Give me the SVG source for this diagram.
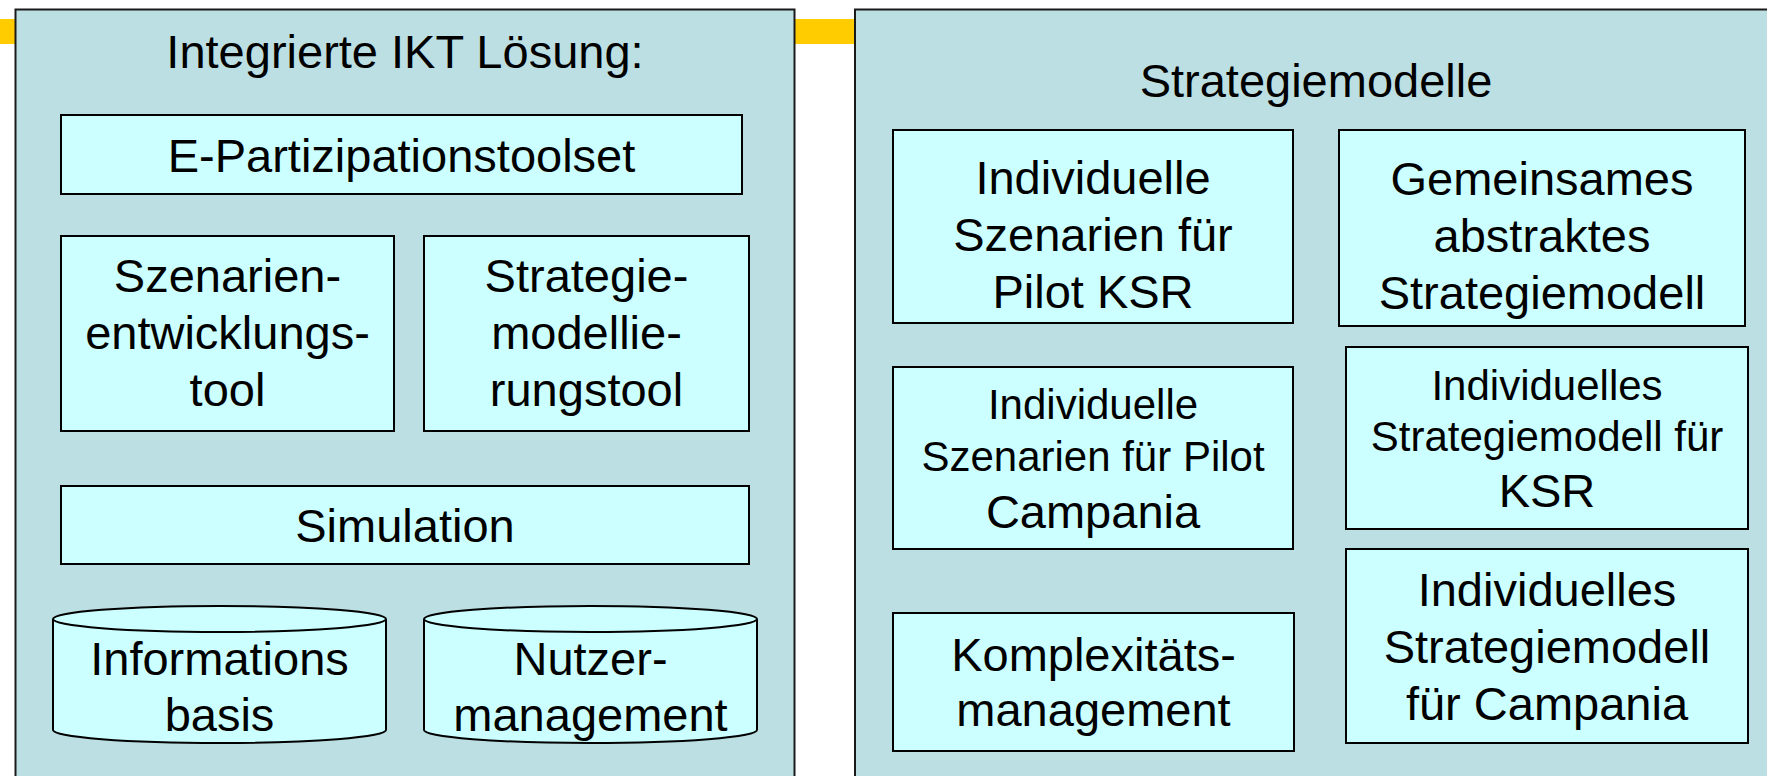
<svg xmlns="http://www.w3.org/2000/svg" width="1767" height="776" viewBox="0 0 1767 776">
<style>
.panel{fill:#BBDFE3;stroke:#1a1a1a;stroke-width:2}
.box{fill:#CCFFFF;stroke:#000;stroke-width:2}
text{font-family:"Liberation Sans",Arial,sans-serif;font-size:47px;fill:#000;text-anchor:middle}
.s{font-size:42px}
</style>
<rect x="0" y="19" width="870" height="25" fill="#FFCC00"/>
<g id="panel-left">
<rect class="panel" x="15.5" y="9.5" width="779" height="800"/>
<text x="405" y="68">Integrierte IKT Lösung:</text>
</g>
<g id="panel-right">
<rect class="panel" x="855" y="9.5" width="950" height="800"/>
<text x="1316" y="97">Strategiemodelle</text>
</g>
<g id="e-partizipation">
<rect class="box" x="61" y="115" width="681" height="79"/>
<text x="401.5" y="172">E-Partizipationstoolset</text>
</g>
<g id="szenarienentwicklung">
<rect class="box" x="61" y="236" width="333" height="195"/>
<text x="227.5" y="292">Szenarien-</text>
<text x="227.5" y="349">entwicklungs-</text>
<text x="227.5" y="406">tool</text>
</g>
<g id="strategiemodellierung">
<rect class="box" x="424" y="236" width="325" height="195"/>
<text x="586.5" y="292">Strategie-</text>
<text x="586.5" y="349">modellie-</text>
<text x="586.5" y="406">rungstool</text>
</g>
<g id="simulation">
<rect class="box" x="61" y="486" width="688" height="78"/>
<text x="405" y="542">Simulation</text>
</g>
<g id="informationsbasis">
<path class="box" d="M53,619 L53,730 A166.5,13 0 0 0 386,730 L386,619"/>
<ellipse class="box" cx="219.5" cy="619" rx="166.5" ry="13"/>
<text x="219.5" y="675">Informations</text>
<text x="219.5" y="731">basis</text>
</g>
<g id="nutzermanagement">
<path class="box" d="M424,619 L424,730 A166.5,13 0 0 0 757,730 L757,619"/>
<ellipse class="box" cx="590.5" cy="619" rx="166.5" ry="13"/>
<text x="590.5" y="675">Nutzer-</text>
<text x="590.5" y="731">management</text>
</g>
<g id="szenarien-ksr">
<rect class="box" x="893" y="130" width="400" height="193"/>
<text x="1093" y="194">Individuelle</text>
<text x="1093" y="251">Szenarien für</text>
<text x="1093" y="308">Pilot KSR</text>
</g>
<g id="gemeinsames-modell">
<rect class="box" x="1339" y="130" width="406" height="196"/>
<text x="1542" y="195">Gemeinsames</text>
<text x="1542" y="252">abstraktes</text>
<text x="1542" y="309">Strategiemodell</text>
</g>
<g id="szenarien-campania">
<rect class="box" x="893" y="367" width="400" height="182"/>
<text class="s" x="1093" y="419">Individuelle</text>
<text class="s" x="1093" y="471">Szenarien für Pilot</text>
<text x="1093" y="528">Campania</text>
</g>
<g id="modell-ksr">
<rect class="box" x="1346" y="347" width="402" height="182"/>
<text class="s" x="1547" y="400">Individuelles</text>
<text class="s" x="1547" y="451">Strategiemodell für</text>
<text x="1547" y="507">KSR</text>
</g>
<g id="modell-campania">
<rect class="box" x="1346" y="549" width="402" height="194"/>
<text x="1547" y="606">Individuelles</text>
<text x="1547" y="663">Strategiemodell</text>
<text x="1547" y="720">für Campania</text>
</g>
<g id="komplexitaet">
<rect class="box" x="893" y="613" width="401" height="138"/>
<text x="1093.5" y="671">Komplexitäts-</text>
<text x="1093.5" y="726">management</text>
</g>
<g id="connectors"></g>
</svg>
